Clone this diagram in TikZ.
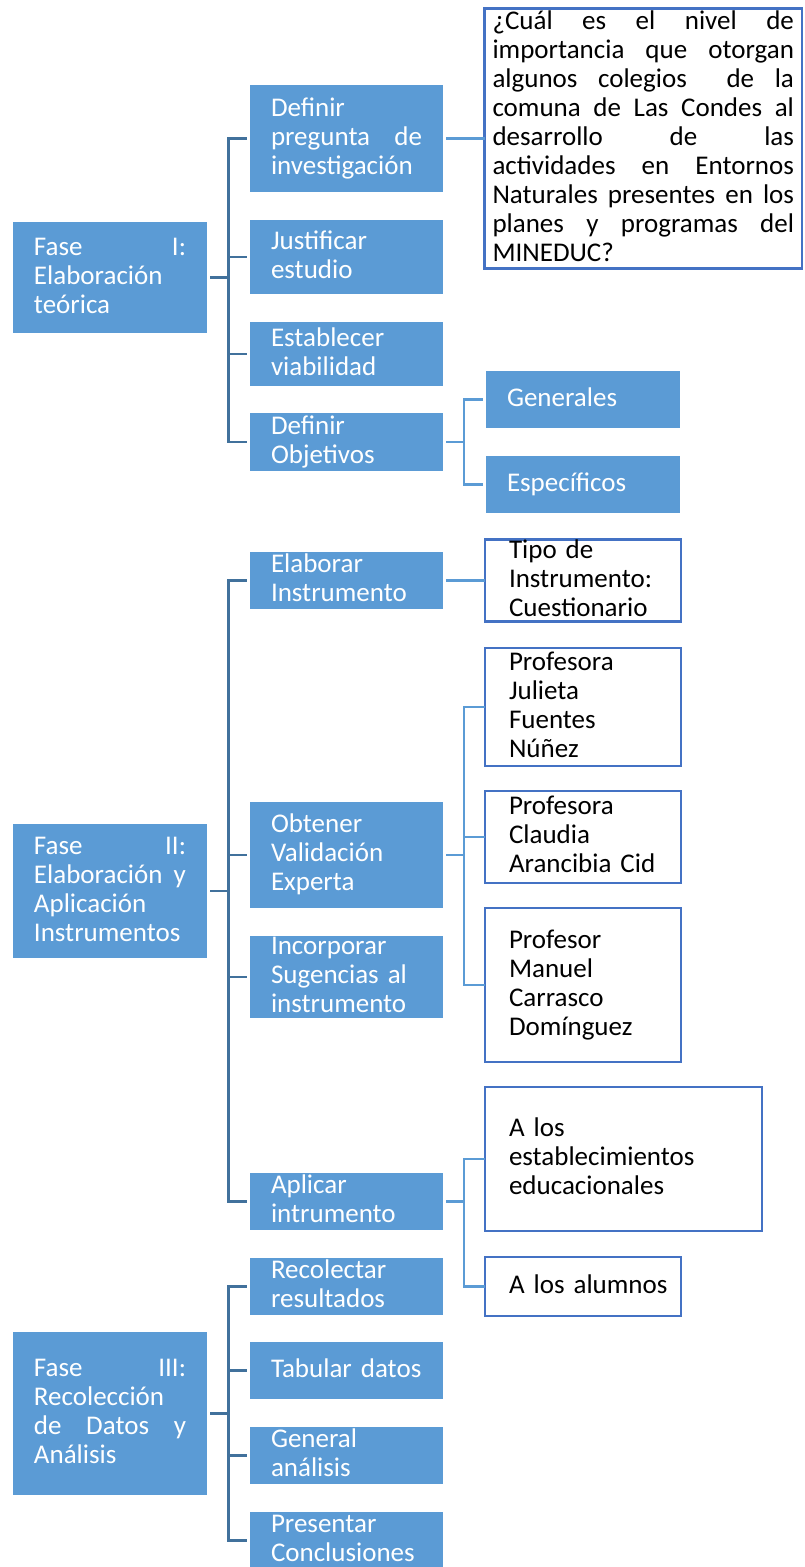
\documentclass[tikz,border=0pt]{standalone}
\usepackage{fontspec}
\setmainfont{Carlito}
\definecolor{sblue}{HTML}{5B9BD5}
\definecolor{pconncol}{HTML}{41719C}
\definecolor{sconncol}{HTML}{5B9BD5}
\definecolor{bordblue}{HTML}{4472C4}
\newcommand\sst{\rule[-7pt]{0pt}{27pt}}
\newcommand\jl[2]{\sst\hbox to #1{#2}}
\newcommand\lnx[1]{\sst\mbox{#1}}
\tikzset{
  bb/.style={fill=sblue, draw=none, anchor=north west, inner ysep=0pt, inner xsep=21pt,
    outer sep=0pt, text=white, align=left, font=\fontsize{27pt}{29pt}\selectfont},
  wb/.style={fill=white, draw=bordblue, line width=2.5pt, anchor=north west, inner ysep=0pt,
    inner xsep=24pt, outer sep=0pt, text=black, align=left, font=\fontsize{27pt}{29pt}\selectfont},
  pc/.style={draw=pconncol, line width=2.5pt},
  sc/.style={draw=sconncol, line width=2.5pt},
}
\begin{document}
\begin{tikzpicture}[x=1pt,y=-1pt]
\useasboundingbox (0,0) rectangle (804,1567);
% ---- Fase I
\node[bb, minimum width=194pt, minimum height=111pt, text width=152pt] (f1) at (13,222)
  {\jl{152pt}{Fase\hfill I:}\\\lnx{Elaboración}\\\lnx{teórica}};
\node[bb, minimum width=193pt, minimum height=107pt, text width=151pt] (dp) at (250,85)
  {\lnx{Definir}\\\jl{151pt}{pregunta\hfill de}\\\lnx{investigación}};
\node[bb, minimum width=193pt, minimum height=74pt, text width=151pt] (js) at (250,220)
  {\lnx{Justificar}\\\lnx{estudio}};
\node[bb, minimum width=193pt, minimum height=64pt, text width=151pt] (ev) at (250,322)
  {\lnx{Establecer}\\\lnx{viabilidad}};
\node[bb, minimum width=193pt, minimum height=58pt, text width=151pt] (do) at (250,413)
  {\lnx{Definir}\\\lnx{Objetivos}};
\node[bb, minimum width=194pt, minimum height=57pt, text width=152pt] (gen) at (486,371)
  {\lnx{Generales}};
\node[bb, minimum width=194pt, minimum height=57pt, text width=152pt] (esp) at (486,456)
  {\lnx{Específicos}};
\node[wb, minimum width=317.5pt, minimum height=260pt, text width=301.5pt, inner xsep=8pt] (q) at (484.5,8.5)
  {\jl{301.5pt}{¿Cuál\hfill es\hfill el\hfill nivel\hfill de}\\
   \jl{301.5pt}{importancia\hfill que\hfill otorgan}\\
   \jl{301.5pt}{algunos\hfill colegios\hfill\hspace{10pt} de\hfill la}\\
   \jl{301.5pt}{comuna\hfill de\hfill Las\hfill Condes\hfill al}\\
   \jl{301.5pt}{desarrollo\hfill de\hfill las}\\
   \jl{301.5pt}{actividades\hfill en\hfill Entornos}\\
   \jl{301.5pt}{Naturales\hfill presentes\hfill en\hfill los}\\
   \jl{301.5pt}{planes\hfill y\hfill programas\hfill del}\\
   \lnx{MINEDUC?}};
% ---- Fase II
\node[bb, minimum width=194pt, minimum height=134pt, text width=152pt] (f2) at (13,824)
  {\jl{152pt}{Fase\hfill II:}\\\jl{152pt}{Elaboración\hfill y}\\\lnx{Aplicación}\\\lnx{Instrumentos}};
\node[bb, minimum width=193pt, minimum height=57pt, text width=151pt] (ei) at (250,552)
  {\lnx{Elaborar}\\\lnx{Instrumento}};
\node[bb, minimum width=193pt, minimum height=106pt, text width=151pt] (ov) at (250,802)
  {\lnx{Obtener}\\\lnx{Validación}\\\lnx{Experta}};
\node[bb, minimum width=193pt, minimum height=82pt, text width=151pt, inner ysep=-1.5pt] (is) at (250,936)
  {\lnx{Incorporar}\\\lnx{Sugencias al}\\\lnx{instrumento}};
\node[bb, minimum width=193pt, minimum height=57pt, text width=151pt] (ai) at (250,1173)
  {\lnx{Aplicar}\\\lnx{intrumento}};
\node[wb, minimum width=196pt, minimum height=82pt, text width=148pt, inner ysep=-1.5pt] (ti) at (485,539.5)
  {\lnx{Tipo de}\\\lnx{Instrumento:}\\\lnx{Cuestionario}};
\node[wb, minimum width=196pt, minimum height=118pt, text width=148pt] (pj) at (485,648)
  {\lnx{Profesora}\\\lnx{Julieta}\\\lnx{Fuentes}\\\lnx{Núñez}};
\node[wb, minimum width=196pt, minimum height=92pt, text width=148pt] (pcl) at (485,791)
  {\lnx{Profesora}\\\lnx{Claudia}\\\lnx{Arancibia Cid}};
\node[wb, minimum width=196pt, minimum height=154pt, text width=148pt] (pm) at (485,908)
  {\lnx{Profesor}\\\lnx{Manuel}\\\lnx{Carrasco}\\\lnx{Domínguez}};
\node[wb, minimum width=277pt, minimum height=144pt, text width=229pt] (ae) at (485,1087)
  {\lnx{A los}\\\lnx{establecimientos}\\\lnx{educacionales}};
\node[wb, minimum width=196pt, minimum height=59pt, text width=148pt] (aa) at (485,1257)
  {\lnx{A los alumnos}};
% ---- Fase III
\node[bb, minimum width=194pt, minimum height=163pt, text width=152pt] (f3) at (13,1332)
  {\jl{152pt}{Fase\hfill III:}\\\lnx{Recolección}\\\jl{152pt}{de\hfill Datos\hfill y}\\\lnx{Análisis}};
\node[bb, minimum width=193pt, minimum height=57pt, text width=151pt] (rr) at (250,1258)
  {\lnx{Recolectar}\\\lnx{resultados}};
\node[bb, minimum width=193pt, minimum height=57pt, text width=151pt] (td) at (250,1342)
  {\lnx{Tabular datos}};
\node[bb, minimum width=193pt, minimum height=57pt, text width=151pt] (ga) at (250,1427)
  {\lnx{General}\\\lnx{análisis}};
\node[bb, minimum width=193pt, minimum height=57pt, text width=151pt] (pr) at (250,1512)
  {\lnx{Presentar}\\\lnx{Conclusiones}};
% ---- connectors: phase -> step
\foreach \p/\c in {f1/dp,f1/js,f1/ev,f1/do,f2/ei,f2/ov,f2/is,f2/ai,f3/rr,f3/td,f3/ga,f3/pr}
  \draw[pc] ([xshift=3pt]\p.east) -- ++(18.5,0) |- ([xshift=-3pt]\c.west);
% ---- connectors: step -> detail
\foreach \p/\c in {dp/q,ei/ti,ov/pj,ov/pcl,ov/pm,ai/ae,ai/aa}
  \draw[sc] ([xshift=3pt]\p.east) -- ++(18,0) |- (\c.west);
\foreach \p/\c in {do/gen,do/esp}
  \draw[sc] ([xshift=3pt]\p.east) -- ++(18,0) |- ([xshift=-3pt]\c.west);
\end{tikzpicture}
\end{document}
